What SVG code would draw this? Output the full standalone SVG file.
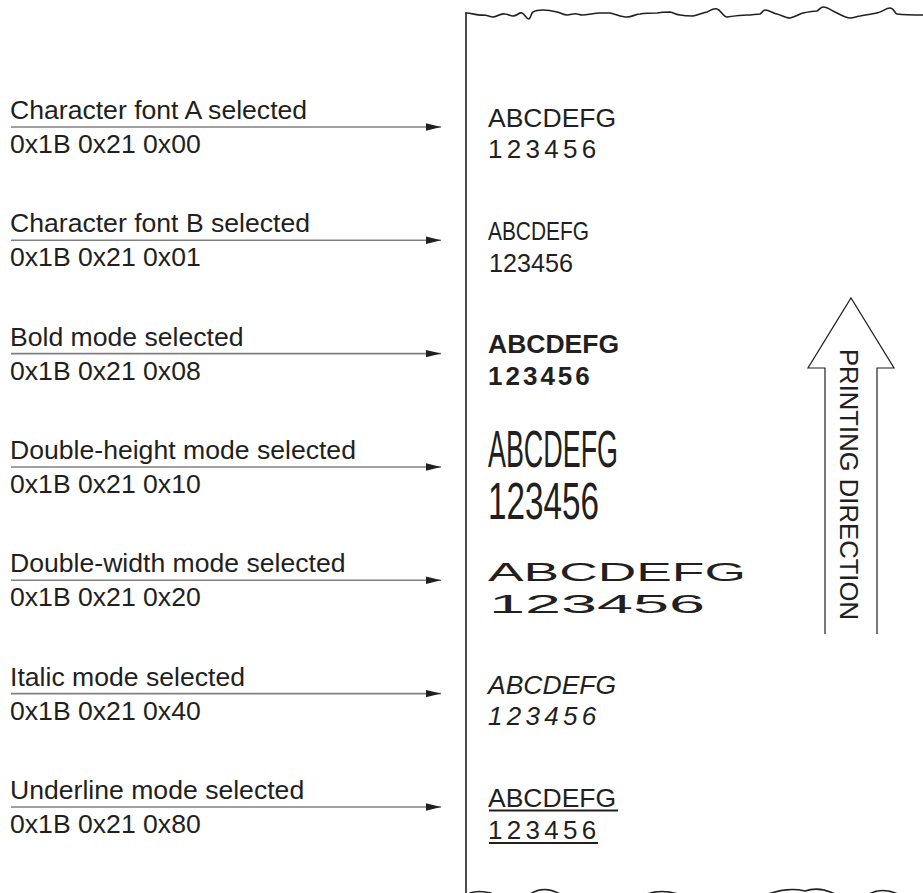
<svg xmlns="http://www.w3.org/2000/svg" width="923" height="893" viewBox="0 0 923 893">
<style>
.lbl{font-family:"Liberation Sans",Arial,sans-serif;font-size:26.6px;fill:#231f20}
.smp{font-family:"Liberation Sans",Arial,sans-serif;fill:#231f20}
.dig{letter-spacing:4.3px}
.ln{stroke:#808080;stroke-width:1.6;fill:none}
.edge{stroke:#231f20;stroke-width:1.6;fill:none;stroke-linecap:round;stroke-linejoin:round}
</style>
<defs>
<marker id="ah" markerWidth="15" markerHeight="9" refX="15" refY="4.5" orient="auto" markerUnits="userSpaceOnUse">
<path d="M0,0.8 L15,4.5 L0,8.2 Z" fill="#231f20"/>
</marker>
</defs>
<rect width="923" height="893" fill="#ffffff"/>

<g id="paper">
<path class="edge" d="M466,893 L466,13"/>
<path class="edge" d="M466,13 C472,13 478,16 483,15 C487,15 490,17 493,17 C497,17 500,13 505,14 C508,14 510,16 513,16 C517,16 519,12 522,13 C525,14 527,20 529,19 C531,18 531,13 533,12 C536,10 540,10 543,10 C548,10 553,11 557,12 C561,13 564,15 567,15 C571,15 574,13 577,14 C579,14 580,15 582,15 C588,15 594,13 600,13 C604,13 607,13 610,13 C616,14 621,17 627,17 C632,17 636,14 640,14 C646,13 652,13 657,13 C662,12 666,12 670,12 C674,13 677,15 680,15 C685,16 689,16 693,16 C698,15 702,13 707,12 C711,10 714,8 717,9 C721,10 723,17 727,17 C734,16 741,15 747,15 C752,15 756,14 760,14 C762,13 763,10 765,10 C769,10 773,13 777,14 C781,15 786,18 790,18 C795,17 799,14 803,13 C808,12 813,11 817,11 C819,10 821,7 823,7 C828,7 832,11 837,13 C841,15 846,18 850,18 C854,18 857,16 860,16 C866,15 872,14 877,13 C882,12 886,8 890,8 C894,8 895,14 897,14 C905,15 914,15 923,15"/>
<path class="edge" d="M470,893 Q478,890 491,893"/>
<path class="edge" d="M530,894 Q544,885 560,894"/>
<path class="edge" d="M647,894 Q661,889 678,894"/>
<path class="edge" d="M768,894 Q788,887 805,891 Q819,886 835,894"/>
<path class="edge" d="M869,894 Q882,887 898,894"/>
</g>

<g id="connectors">
<line class="ln" x1="11" y1="127" x2="441" y2="127" marker-end="url(#ah)"/>
<line class="ln" x1="11" y1="240.3" x2="441" y2="240.3" marker-end="url(#ah)"/>
<line class="ln" x1="11" y1="353.6" x2="441" y2="353.6" marker-end="url(#ah)"/>
<line class="ln" x1="11" y1="467" x2="441" y2="467" marker-end="url(#ah)"/>
<line class="ln" x1="11" y1="580.3" x2="441" y2="580.3" marker-end="url(#ah)"/>
<line class="ln" x1="11" y1="693.6" x2="441" y2="693.6" marker-end="url(#ah)"/>
<line class="ln" x1="11" y1="807" x2="441" y2="807" marker-end="url(#ah)"/>
</g>

<g id="row-font-a">
<text class="lbl" x="10" y="119">Character font A selected</text>
<text class="lbl" x="10" y="153">0x1B 0x21 0x00</text>
<text class="smp" x="488" y="127" font-size="26.5">ABCDEFG</text>
<text class="smp dig" x="488" y="158" font-size="26">123456</text>
</g>

<g id="row-font-b">
<text class="lbl" x="10" y="232.3">Character font B selected</text>
<text class="lbl" x="10" y="266.3">0x1B 0x21 0x01</text>
<text class="smp" x="488" y="240" font-size="25" textLength="101" lengthAdjust="spacingAndGlyphs">ABCDEFG</text>
<text class="smp" x="489" y="272" font-size="25" textLength="84" lengthAdjust="spacingAndGlyphs">123456</text>
</g>

<g id="row-bold">
<text class="lbl" x="10" y="345.6">Bold mode selected</text>
<text class="lbl" x="10" y="379.6">0x1B 0x21 0x08</text>
<text class="smp" x="488" y="353" font-size="26.5" font-weight="bold">ABCDEFG</text>
<text class="smp" x="488" y="385" font-size="26" font-weight="bold" letter-spacing="3">123456</text>
</g>

<g id="row-double-height">
<text class="lbl" x="10" y="459">Double-height mode selected</text>
<text class="lbl" x="10" y="493">0x1B 0x21 0x10</text>
<text class="smp" x="488" y="467" font-size="52" textLength="130" lengthAdjust="spacingAndGlyphs">ABCDEFG</text>
<text class="smp" x="488" y="519" font-size="51" textLength="111" lengthAdjust="spacingAndGlyphs">123456</text>
</g>

<g id="row-double-width">
<text class="lbl" x="10" y="572.3">Double-width mode selected</text>
<text class="lbl" x="10" y="606.3">0x1B 0x21 0x20</text>
<text class="smp" x="488" y="581" font-size="25" textLength="258" lengthAdjust="spacingAndGlyphs">ABCDEFG</text>
<text class="smp" x="489" y="613" font-size="26" textLength="216" lengthAdjust="spacingAndGlyphs">123456</text>
</g>

<g id="row-italic">
<text class="lbl" x="10" y="685.6">Italic mode selected</text>
<text class="lbl" x="10" y="719.6">0x1B 0x21 0x40</text>
<text class="smp" x="488" y="694" font-size="26.5" font-style="italic">ABCDEFG</text>
<text class="smp dig" x="488" y="725" font-size="26" font-style="italic">123456</text>
</g>

<g id="row-underline">
<text class="lbl" x="10" y="799">Underline mode selected</text>
<text class="lbl" x="10" y="833">0x1B 0x21 0x80</text>
<text class="smp" x="488" y="807" font-size="26.5">ABCDEFG</text>
<line x1="489" y1="810.5" x2="618" y2="810.5" stroke="#231f20" stroke-width="2"/>
<text class="smp dig" x="488" y="839" font-size="26">123456</text>
<line x1="489" y1="843" x2="598" y2="843" stroke="#231f20" stroke-width="2"/>
</g>

<g id="printing-direction">
<path d="M825,634 L825,368 L808,368 L851,298 L894,368 L877,368 L877,634" fill="none" stroke="#231f20" stroke-width="1.2" stroke-linejoin="miter"/>
<text class="lbl" transform="translate(840,349) rotate(90)" textLength="271" lengthAdjust="spacingAndGlyphs">PRINTING DIRECTION</text>
</g>
</svg>
